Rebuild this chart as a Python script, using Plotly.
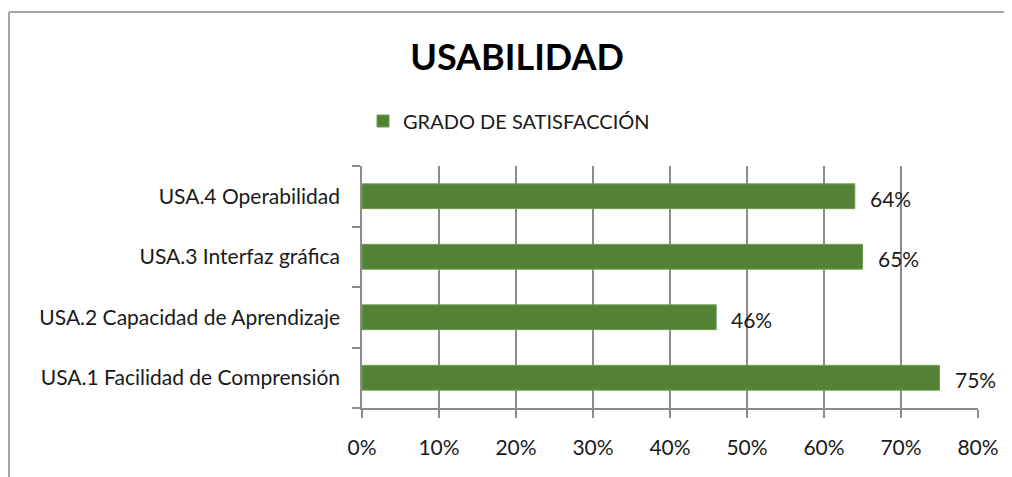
import plotly.graph_objects as go

categories = ["USA.1 Facilidad de Comprensión", "USA.2 Capacidad de Aprendizaje",
              "USA.3 Interfaz gráfica", "USA.4 Operabilidad"]
values = [0.75, 0.46, 0.65, 0.64]
labels = ["75%", "46%", "65%", "64%"]
series_name = "GRADO DE SATISFACCIÓN"
x_ticks = [0, 0.1, 0.2, 0.3, 0.4, 0.5, 0.6, 0.7, 0.8]
x_tick_labels = ["0%", "10%", "20%", "30%", "40%", "50%", "60%", "70%", "80%"]

FONT = "Lato"
GREEN = "#548235"
GRID = "#8c8c8c"
TXT = "#1a1a1a"

# page body has an 8px margin; figure sized to fit in the window
W, H = 1004, 469
L, T = 354, 158
R, B = W - (978 - 8), H - (408 - 8)
PW, PH = W - L - R, H - T - B

def px_x(sx):
    return (sx - 8 - L) / PW

def px_y(sy):
    return (H - B - (sy - 8)) / PH

fig = go.Figure()
fig.add_trace(go.Bar(
    x=values, y=categories, orientation="h", name=series_name,
    marker=dict(color=GREEN, line=dict(color="#6f9c54", width=1)),
    showlegend=True,
))

for v, c, t in zip(values, categories, labels):
    fig.add_annotation(x=v, y=c, text=t, showarrow=False, xanchor="left",
                       xshift=13, yshift=-2, font=dict(family=FONT, size=21, color=TXT))

# outer chart border
fig.add_shape(type="line", xref="paper", yref="paper", x0=px_x(9), x1=px_x(1030),
              y0=px_y(12), y1=px_y(12), line=dict(color="#a6a6a6", width=2))
fig.add_shape(type="line", xref="paper", yref="paper", x0=px_x(9), x1=px_x(9),
              y0=px_y(12), y1=px_y(490), line=dict(color="#a6a6a6", width=2))

fig.update_layout(
    width=W, height=H,
    margin=dict(l=L, r=R, t=T, b=B),
    paper_bgcolor="white", plot_bgcolor="white",
    bargap=0.59,
    title=dict(text="<b>USABILIDAD</b>", x=(517 - 8) / W, xanchor="center",
               y=1 - (57 - 8) / H, yanchor="middle", yref="container",
               font=dict(family=FONT, size=36, color="black")),
    legend=dict(orientation="h", x=px_x(363), xanchor="left", y=px_y(121),
                yanchor="middle",
                font=dict(family=FONT, size=20, color=TXT),
                bgcolor="rgba(0,0,0,0)"),
    font=dict(family=FONT, color=TXT),
)
fig.update_xaxes(range=[0, 0.8], tickvals=x_ticks, ticktext=x_tick_labels,
                 showgrid=True, gridcolor=GRID, gridwidth=1.5,
                 showline=True, linecolor=GRID, linewidth=1.5,
                 ticks="outside", ticklen=8, tickcolor=GRID, tickwidth=1.5,
                 ticklabelstandoff=12,
                 tickfont=dict(family=FONT, size=21, color=TXT),
                 zeroline=False, fixedrange=True)
fig.update_yaxes(categoryorder="array", categoryarray=categories,
                 showline=True, linecolor=GRID, linewidth=1.5,
                 ticks="outside", ticklen=8, tickcolor=GRID, tickwidth=1.5,
                 tickson="boundaries", ticklabelstandoff=16,
                 tickfont=dict(family=FONT, size=21, color=TXT),
                 showgrid=False, fixedrange=True)

fig.write_html("out.html")
